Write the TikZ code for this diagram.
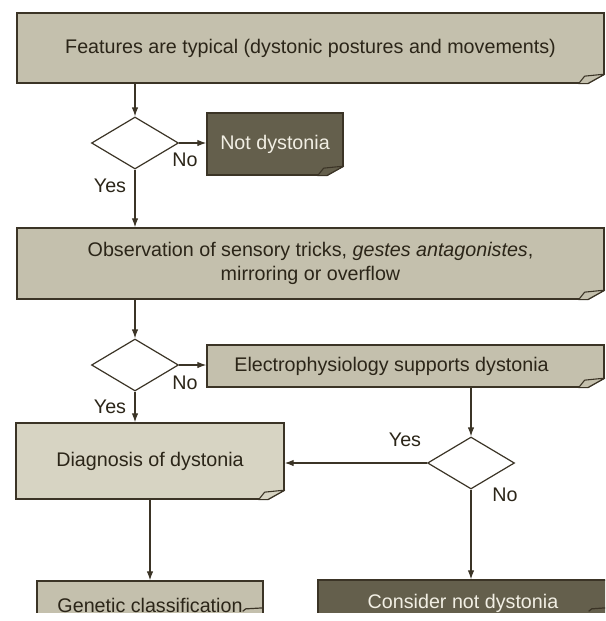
\documentclass[tikz,border=0pt]{standalone}
\usepackage{fontspec}
\setmainfont{Liberation Sans}
\usetikzlibrary{shapes.geometric,arrows.meta,calc}
\definecolor{boxfill}{HTML}{C4C0AD}
\definecolor{diagfill}{HTML}{D7D4C3}
\definecolor{darkfill}{HTML}{645F4C}
\definecolor{edge}{HTML}{3B3426}
\definecolor{ink}{HTML}{2B2518}
\definecolor{lightink}{HTML}{F2EFE4}
\tikzset{
  box/.style={rectangle, draw=edge, line width=1.3pt, fill=boxfill, inner sep=0pt, text=ink, font=\fontsize{19.7}{23.5}\selectfont},
  darkbox/.style={box, fill=darkfill, text=lightink},
  decision/.style={diamond, draw=edge, line width=1.2pt, fill=white, inner sep=0pt, minimum width=87pt, minimum height=52pt},
  conn/.style={draw=edge, line width=1.2pt, -{Latex[length=9pt,width=6.5pt]}},
  lab/.style={text=ink, font=\fontsize{19.7}{23.5}\selectfont, inner sep=0pt}
}
\newcommand\foldcorner[2]{%
  \fill[white] ([xshift=-17pt]#1.south east) -- ([xshift=-17pt,yshift=-2pt]#1.south east) -- ([xshift=2pt,yshift=-2pt]#1.south east) -- ([xshift=2pt,yshift=9.5pt]#1.south east) -- ([yshift=9.5pt]#1.south east) -- cycle;
  \draw[edge, line width=1.3pt] ([xshift=-17pt]#1.south east) -- ([yshift=9.5pt]#1.south east);
  \filldraw[fill=#2, draw=edge, line width=1.1pt, line join=round] ([xshift=-26pt]#1.south east) -- ([xshift=-20pt,yshift=7.5pt]#1.south east) -- ([yshift=9.5pt]#1.south east) -- ([xshift=-17pt]#1.south east) -- cycle;
}
\begin{document}
\begin{tikzpicture}[x=1pt,y=-1pt]
\useasboundingbox (0,0) rectangle (605,621);
\begin{scope}
\clip (0,0) rectangle (605,612);
% boxes
\node[box, minimum width=587pt, minimum height=70pt] (f1) at (310.5,48) {Features are typical (dystonic postures and movements)};
\node[darkbox, minimum width=136pt, minimum height=62pt] (nd) at (275,144) {Not dystonia};
\node[box, minimum width=587pt, minimum height=71pt, align=center] (obs) at (310.5,263.5) {Observation of sensory tricks, \textit{gestes antagonistes},\\mirroring or overflow};
\node[box, minimum width=397pt, minimum height=42pt] (elec) at (405.5,366) {Electrophysiology supports dystonia\hspace*{28pt}};
\node[box, fill=diagfill, minimum width=268pt, minimum height=76pt] (diag) at (150,461) {Diagnosis of dystonia};
\node[box, minimum width=226pt, minimum height=48pt] (gen) at (150,605) {Genetic classification};
\node[darkbox, minimum width=290pt, minimum height=46pt] (cons) at (463,603) {Consider not dystonia};
\foldcorner{f1}{boxfill}
\foldcorner{nd}{darkfill}
\foldcorner{obs}{boxfill}
\foldcorner{elec}{boxfill}
\foldcorner{diag}{diagfill}
\draw[edge, line width=1.2pt] ($(gen.north east)+(-21,31)$) -- ($(gen.north east)+(-18,28.5)$) -- ($(gen.north east)+(0,27.5)$);
\draw[edge, line width=1.2pt] ($(cons.north east)+(-20,32)$) -- ($(cons.north east)+(-17,29.5)$) -- ($(cons.north east)+(-3,28.5)$);
\end{scope}
% decisions
\node[decision] (d1) at (135,143) {};
\node[decision] (d2) at (135,365) {};
\node[decision] (d3) at (471,463) {};
% connectors
\draw[conn] (f1.south -| d1.north) -- (d1.north);
\draw[conn] (d1.east) -- (nd.west |- d1.east);
\draw[conn] (d1.south) -- (d1.south |- obs.north);
\draw[conn] (obs.south -| d2.north) -- (d2.north);
\draw[conn] (d2.east) -- (elec.west |- d2.east);
\draw[conn] (d2.south) -- (d2.south |- diag.north);
\draw[conn] (elec.south -| d3.north) -- (d3.north);
\draw[conn] (d3.west) -- (diag.east |- d3.west);
\draw[conn] (d3.south) -- (d3.south |- cons.north);
\draw[conn] (diag.south) -- (gen.north);
% labels
\node[lab] (n1) at (185,160) {No};
\node[lab] (y1) at (110,186) {Yes};
\node[lab] (n2) at (185,383) {No};
\node[lab] (y2) at (110,407) {Yes};
\node[lab] (y3) at (405,440) {Yes};
\node[lab] (n3) at (505,495) {No};
\end{tikzpicture}
\end{document}
